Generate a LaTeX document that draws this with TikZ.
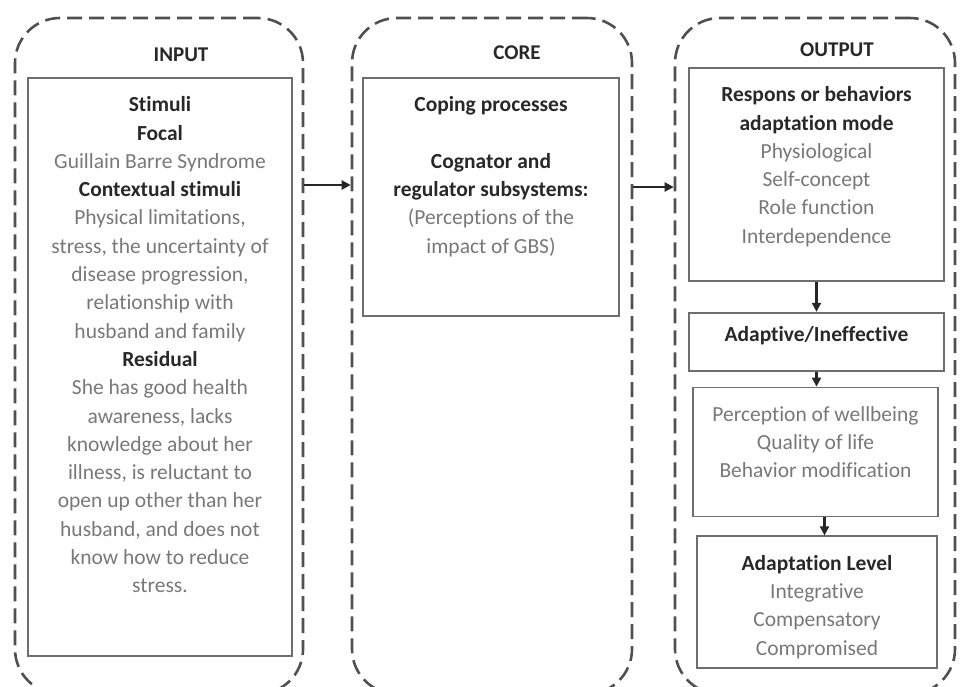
\documentclass[tikz,border=0pt]{standalone}
\usepackage{fontspec}
\setmainfont{Carlito}[Ligatures=NoCommon]
\usetikzlibrary{arrows.meta, positioning}
\definecolor{framegray}{RGB}{80, 80, 80}
\definecolor{boxgray}{RGB}{110, 110, 110}
\definecolor{headtext}{RGB}{40, 40, 40}
\definecolor{bodytext}{RGB}{120, 120, 120}
\newcommand{\hd}[1]{\textbf{\color{headtext}#1}}
\newcommand{\cellbox}[4][14pt]{\parbox[c][#3][t]{#2}{\centering\vspace*{#1}\strut #4}}

\begin{document}
\begin{tikzpicture}[
    x=1pt, y=-1pt,
    node distance=15pt,
    frame/.style={draw=framegray, line width=2.6pt, dash pattern=on 15pt off 7pt, rounded corners=45pt, inner sep=0pt},
    box/.style={draw=boxgray, line width=1.8pt, inner sep=0pt, anchor=north, font=\fontsize{21.5}{28.3}\selectfont, text=bodytext},
    title/.style={font=\fontsize{21}{25}\selectfont\bfseries, text=headtext},
    arrow/.style={-{Triangle[length=9pt, width=9pt]}, line width=2.2pt, draw=black!85}
]
\useasboundingbox (0,0) rectangle (960,686);

% Dashed frames
\node[frame, minimum width=288pt, minimum height=676pt] (inframe) at (159,356) {};
\node[frame, minimum width=280pt, minimum height=676pt] (coreframe) at (492,356) {};
\node[frame, minimum width=280pt, minimum height=676pt] (outframe) at (815,356) {};

% Titles
\node[title] (intitle) at (181,55) {INPUT};
\node[title] (coretitle) at (517,53) {CORE};
\node[title] (outtitle) at (837,50) {OUTPUT};

% Input
\node[box] (stim) at (160,77) {\cellbox{264pt}{578pt}{\hd{Stimuli}\\ \hd{Focal}\\ Guillain Barre Syndrome\\ \hd{Contextual stimuli}\\ Physical limitations,\\ stress, the uncertainty of\\ disease progression,\\ relationship with\\ husband and family\\ \hd{Residual}\\ She has good health\\ awareness, lacks\\ knowledge about her\\ illness, is reluctant to\\ open up other than her\\ husband, and does not\\ know how to reduce\\ stress.}};

% Core
\node[box] (coping) at (491,77) {\cellbox{256pt}{238pt}{\hd{Coping processes}\\[28.3pt] \hd{Cognator and}\\ \hd{regulator subsystems:}\\ (Perceptions of the\\ impact of GBS)}};

% Output
\node[box] (resp) at (816.5,67) {\cellbox{255pt}{213pt}{\hd{Respons or behaviors}\\ \hd{adaptation mode}\\ Physiological\\ Self-concept\\ Role function\\ Interdependence}};
\node[box, below=30pt of resp] (adapt) {\cellbox[9pt]{255pt}{58pt}{\hd{Adaptive/Ineffective}}};
\node[box, below=of adapt, xshift=-1pt] (wellb) {\cellbox{245pt}{129pt}{Perception of wellbeing\\ Quality of life\\ Behavior modification}};
\node[box, below=18pt of wellb, xshift=1.5pt] (level) {\cellbox{240pt}{132pt}{\hd{Adaptation Level}\\ Integrative\\ Compensatory\\ Compromised}};

% Arrows
\draw[arrow] ([yshift=171pt]inframe.east) -- ([yshift=171pt]coreframe.west);
\draw[arrow] ([yshift=169pt]coreframe.east) -- ([yshift=169pt]outframe.west);
\draw[arrow] (resp.south) -- (resp.south |- adapt.north);
\draw[arrow] (adapt.south) -- (adapt.south |- wellb.north);
\draw[arrow] ([xshift=9pt]wellb.south) -- ([xshift=9pt]wellb.south |- level.north);

\end{tikzpicture}
\end{document}
